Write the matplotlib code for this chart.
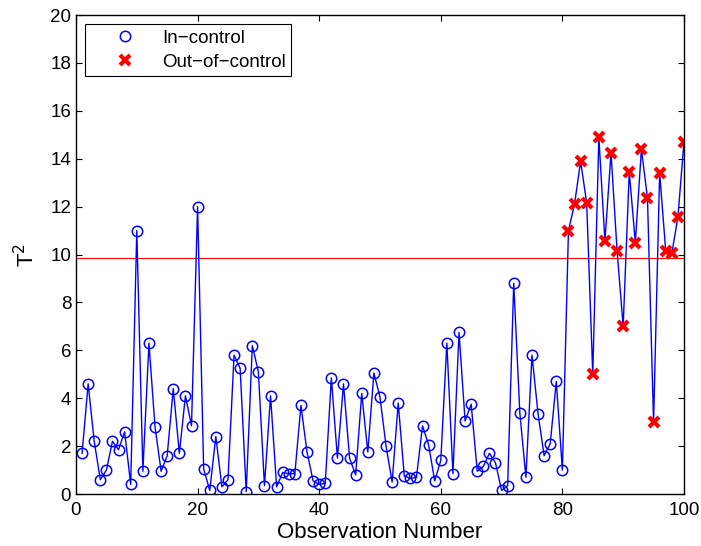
import numpy as np
import matplotlib.pyplot as plt

plt.rcParams['font.family'] = ['Liberation Sans', 'DejaVu Sans']

# Hotelling T^2 statistic for each observation
obs = np.arange(1, 101)
t2 = [
    1.7, 4.6, 2.2, 0.6, 1.0, 2.2, 1.85, 2.6, 0.4, 11.0,
    0.95, 6.3, 2.8, 0.95, 1.6, 4.4, 1.7, 4.1, 2.85, 12.0,
    1.05, 0.15, 2.4, 0.3, 0.6, 5.8, 5.25, 0.1, 6.2, 5.1,
    0.35, 4.1, 0.3, 0.9, 0.85, 0.85, 3.7, 1.75, 0.55, 0.4,
    0.45, 4.85, 1.5, 4.6, 1.5, 0.8, 4.2, 1.75, 5.05, 4.05,
    2.0, 0.5, 3.8, 0.75, 0.65, 0.7, 2.85, 2.05, 0.55, 1.4,
    6.3, 0.85, 6.75, 3.05, 3.75, 0.95, 1.15, 1.7, 1.3, 0.15,
    0.35, 8.8, 3.4, 0.7, 5.8, 3.35, 1.6, 2.1, 4.7, 1.0,
    11.0, 12.1, 13.9, 12.15, 5.0, 14.9, 10.55, 14.25, 10.15, 7.0,
    13.45, 10.5, 14.4, 12.35, 3.0, 13.4, 10.15, 10.05, 11.55, 14.7,
]
ucl = 9.85
shift_start = 81  # first observation after the process shift

t2 = np.array(t2)
in_ctrl = obs < shift_start
out_ctrl = ~in_ctrl

fig = plt.figure(figsize=(7.01, 5.46), dpi=100)
ax = fig.add_axes([0.1084, 0.0952, 0.8673, 0.8773])

ax.axhline(ucl, color='r', lw=0.8)
ax.plot(obs, t2, '-', color='b', lw=1)
ax.plot(obs[in_ctrl], t2[in_ctrl], 'o', mfc='none', mec='b', ms=7.5,
        mew=1.1, label='In\u2212control')
ax.plot(obs[out_ctrl], t2[out_ctrl], 'x', color='r', ms=6.5, mew=3,
        label='Out\u2212of\u2212control')

ax.set_xlim(0, 100)
ax.set_ylim(0, 20)
ax.set_xticks(np.arange(0, 101, 20))
ax.set_yticks(np.arange(0, 21, 2))
ax.tick_params(direction='in', top=True, right=True, labelsize=13.5,
               length=4, width=0.8)
ax.tick_params(axis='x', pad=6)
for s in ax.spines.values():
    s.set_linewidth(1)

ax.set_xlabel('Observation Number', fontsize=16, labelpad=2)
ax.set_ylabel('T$^2$', fontsize=16, labelpad=8)

leg = ax.legend(loc='upper left', fontsize=13.5, fancybox=False,
                edgecolor='k', framealpha=1, borderpad=0.3,
                borderaxespad=0, handletextpad=0.1, handlelength=3.7,
                bbox_to_anchor=(0.0148, 0.981), labelspacing=0.35)
leg.get_frame().set_linewidth(0.8)

fig.savefig('out.png', dpi=100)
